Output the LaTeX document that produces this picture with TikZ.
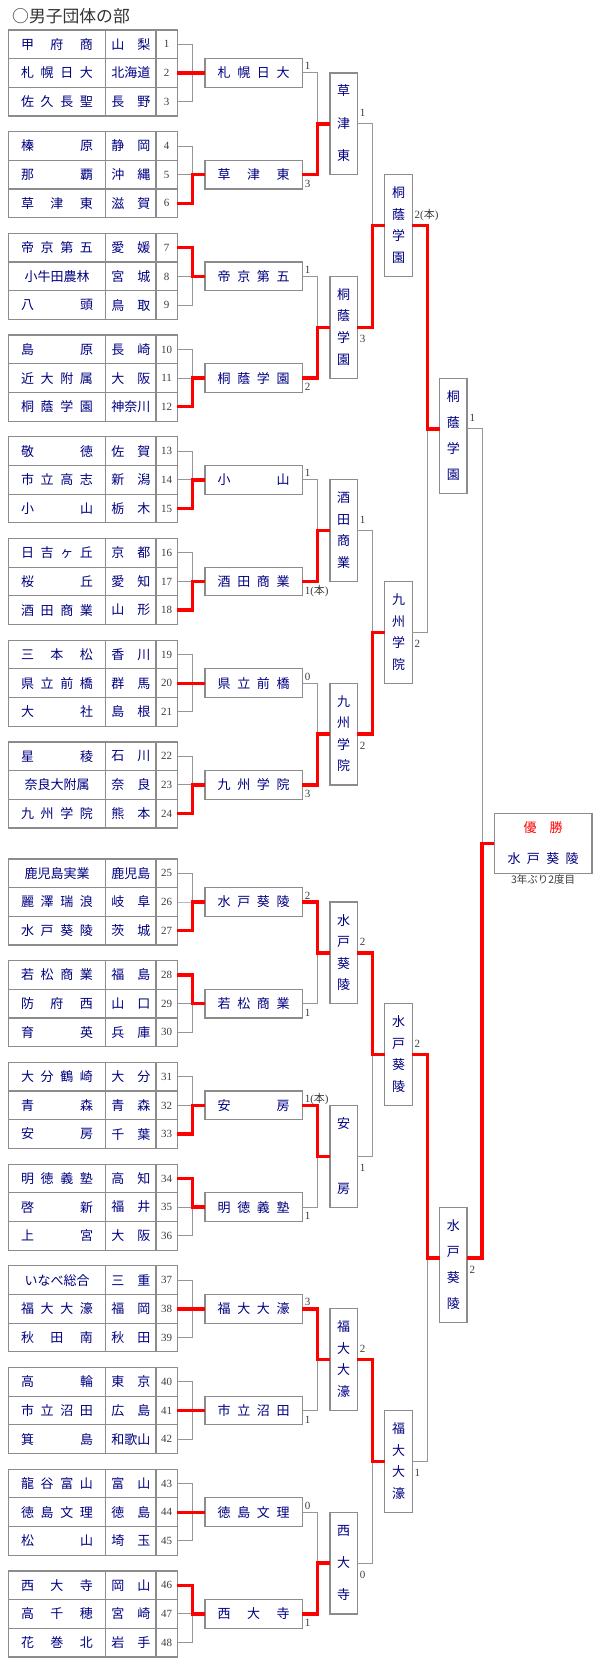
\documentclass[tikz,border=0pt]{standalone}
\usepackage{fontspec}
\setmainfont{Liberation Serif}
\newfontfamily\jfont{Noto Sans CJK JP}
\usetikzlibrary{calc}

\definecolor{teamblue}{RGB}{0,0,128}
\definecolor{cellgray}{RGB}{140,140,140}
\definecolor{linegray}{RGB}{150,150,150}
\definecolor{numgray}{RGB}{60,60,60}
\definecolor{titlegray}{RGB}{51,51,51}

% characters spread over a fixed width or height
\newcommand\hspread[2]{\edef\spreadlist{#2}\leavevmode
  \hbox to #1{\hfil\foreach[count=\idx]\zi in \spreadlist{\ifnum\idx>1 \hfill\fi\zi}\hfil}}
\newcommand\vspread[2]{\edef\spreadlist{#2}%
  \vbox to #1{\offinterlineskip
    \foreach[count=\idx]\zi in \spreadlist{\ifnum\idx>1 \vfill\fi
      \hbox to 13pt{\hss\zi\hss\vrule height 11pt depth 2pt width 0pt}}}}
\newcommand\hon{({\jfont 本})}

\begin{document}
\begin{tikzpicture}[x=1pt, y=-1pt,
  cell/.style={draw=cellgray, line width=1.2pt, inner sep=0pt, outer sep=0pt},
  team/.style={cell, minimum height=28.67pt, text=teamblue, font=\jfont\fontsize{13}{15}\selectfont},
  num/.style={cell, minimum width=21.3pt, minimum height=28.67pt, text=numgray, font=\fontsize{11}{13}\selectfont},
  flatbox/.style={team, minimum width=97.3pt},
  tallbox/.style={cell, minimum width=27.4pt, minimum height=#1, text=teamblue, font=\jfont\fontsize{13}{15}\selectfont},
  link/.style={draw=linegray, line width=1pt},
  win/.style={draw=red, line width=3.4pt},
  score/.style={inner xsep=2.5pt, inner ysep=0pt, outer sep=0pt, text=numgray, font=\fontsize{11}{13}\selectfont, text height=7.5pt, text depth=0pt},
  score up/.style={score, anchor=south west, yshift=#1},
  score down/.style={score, anchor=north west, yshift=-#1}]
\useasboundingbox (0,0) rectangle (600,1680);

% --- Title ---
\node[anchor=west, inner sep=0pt, text=titlegray, font=\jfont\fontsize{16.8}{18}\selectfont] (title) at (12,16) {○男子団体の部};

% --- Teams ---
\foreach \n/\nm/\pf in {
  1/{甲,府,商}/{山,梨}, 2/{札,幌,日,大}/北海道, 3/{佐,久,長,聖}/{長,野},
  4/{榛,原}/{静,岡}, 5/{那,覇}/{沖,縄}, 6/{草,津,東}/{滋,賀},
  7/{帝,京,第,五}/{愛,媛}, 8/小牛田農林/{宮,城}, 9/{八,頭}/{鳥,取},
  10/{島,原}/{長,崎}, 11/{近,大,附,属}/{大,阪}, 12/{桐,蔭,学,園}/神奈川,
  13/{敬,徳}/{佐,賀}, 14/{市,立,高,志}/{新,潟}, 15/{小,山}/{栃,木},
  16/{日,吉,ヶ,丘}/{京,都}, 17/{桜,丘}/{愛,知}, 18/{酒,田,商,業}/{山,形},
  19/{三,本,松}/{香,川}, 20/{県,立,前,橋}/{群,馬}, 21/{大,社}/{島,根},
  22/{星,稜}/{石,川}, 23/奈良大附属/{奈,良}, 24/{九,州,学,院}/{熊,本},
  25/鹿児島実業/鹿児島, 26/{麗,澤,瑞,浪}/{岐,阜}, 27/{水,戸,葵,陵}/{茨,城},
  28/{若,松,商,業}/{福,島}, 29/{防,府,西}/{山,口}, 30/{育,英}/{兵,庫},
  31/{大,分,鶴,崎}/{大,分}, 32/{青,森}/{青,森}, 33/{安,房}/{千,葉},
  34/{明,徳,義,塾}/{高,知}, 35/{啓,新}/{福,井}, 36/{上,宮}/{大,阪},
  37/いなべ総合/{三,重}, 38/{福,大,大,濠}/{福,岡}, 39/{秋,田,南}/{秋,田},
  40/{高,輪}/{東,京}, 41/{市,立,沼,田}/{広,島}, 42/{箕,島}/和歌山,
  43/{龍,谷,富,山}/{富,山}, 44/{徳,島,文,理}/{徳,島}, 45/{松,山}/{埼,玉},
  46/{西,大,寺}/{岡,山}, 47/{高,千,穂}/{宮,崎}, 48/{花,巻,北}/{岩,手}}{
  \pgfmathtruncatemacro\g{(\n+2)/3}
  \pgfmathsetmacro\y{44.33+101.7*(\g-1)+15.4*(\g>8)+28.67*(\n-3*\g+2)}
  \node[team, minimum width=97.4pt] (t\n) at (57,\y) {\hspread{72pt}{\nm}};
  \node[team, minimum width=50.3pt] (p\n) at (130.85,\y) {\hspread{39pt}{\pf}};
  \node[num] (c\n) at (166.65,\y) {\n};
}

% --- Round 1 ---
\foreach \g/\w/\nm/\scr in {1/2/{札,幌,日,大}/1, 2/3/{草,津,東}/3, 3/1/{帝,京,第,五}/1, 4/3/{桐,蔭,学,園}/2,
  5/3/{小,山}/1, 6/3/{酒,田,商,業}/1\hon, 7/2/{県,立,前,橋}/0, 8/3/{九,州,学,院}/3,
  9/3/{水,戸,葵,陵}/2, 10/1/{若,松,商,業}/1, 11/3/{安,房}/1\hon, 12/1/{明,徳,義,塾}/1,
  13/2/{福,大,大,濠}/3, 14/2/{市,立,沼,田}/1, 15/2/{徳,島,文,理}/0, 16/1/{西,大,寺}/1}{
  \pgfmathsetmacro\y{73+101.7*(\g-1)+15.4*(\g>8)}
  \node[flatbox] (r1-\g) at (253.65,\y) {\hspread{72pt}{\nm}};
  \foreach \row in {1,2,3}{
    \pgfmathtruncatemacro\tn{3*\g-3+\row}
    \draw[link] (c\tn.east) -| ($(r1-\g.west)+(-12.3,0)$) -- (r1-\g.west);
  }
  \pgfmathtruncatemacro\tn{3*\g-3+\w}
  \draw[win] (c\tn.east) -| ($(r1-\g.west)+(-12.3,0)$) -- (r1-\g.west);
  \ifodd\g\relax \node[score up=3pt] (s1-\g) at (r1-\g.east) {\scr};
  \else \node[score down=5.3pt] (s1-\g) at (r1-\g.east) {\scr}; \fi
}

% --- Round 2 ---
\foreach \jj/\wr/\nm/\scr in {1/2/{草,津,東}/1, 2/4/{桐,蔭,学,園}/3, 3/6/{酒,田,商,業}/1, 4/8/{九,州,学,院}/2,
  5/9/{水,戸,葵,陵}/2, 6/11/{安,房}/1, 7/13/{福,大,大,濠}/2, 8/16/{西,大,寺}/0}{
  \pgfmathsetmacro\y{123.85+203.4*(\jj-1)+15.4*(\jj>4)}
  \node[tallbox=101.7pt] (r2-\jj) at (343.65,\y) {\vspread{75.7pt}{\nm}};
  \pgfmathtruncatemacro\lo{2*\jj-1}
  \pgfmathtruncatemacro\hi{2*\jj}
  \foreach \g in {\lo,\hi}
    \draw[link] (r1-\g.east) -| ($(r2-\jj.west)+(-12.7,0)$) -- (r2-\jj.west);
  \draw[win] (r1-\wr.east) -| ($(r2-\jj.west)+(-12.7,0)$) -- (r2-\jj.west);
  \ifodd\jj\relax \node[score up=7.3pt] (s2-\jj) at (r2-\jj.east) {\scr};
  \else \node[score down=7.6pt] (s2-\jj) at (r2-\jj.east) {\scr}; \fi
}

% --- Round 3 ---
\foreach \ii/\wr/\nm/\scr in {1/2/{桐,蔭,学,園}/2\hon, 2/4/{九,州,学,院}/2, 3/5/{水,戸,葵,陵}/2, 4/7/{福,大,大,濠}/1}{
  \pgfmathsetmacro\y{225.55+406.8*(\ii-1)+15.4*(\ii>2)}
  \node[tallbox=101.7pt] (r3-\ii) at (398.5,\y) {\vspread{75.7pt}{\nm}};
  \pgfmathtruncatemacro\lo{2*\ii-1}
  \pgfmathtruncatemacro\hi{2*\ii}
  \foreach \jj in {\lo,\hi}
    \draw[link] (r2-\jj.east) -| ($(r3-\ii.west)+(-12.4,0)$) -- (r3-\ii.west);
  \draw[win] (r2-\wr.east) -| ($(r3-\ii.west)+(-12.4,0)$) -- (r3-\ii.west);
  \ifodd\ii\relax \node[score up=7.3pt] (s3-\ii) at (r3-\ii.east) {\scr};
  \else \node[score down=7.6pt] (s3-\ii) at (r3-\ii.east) {\scr}; \fi
}

% --- Semi-finals ---
\foreach \hh/\wr/\nm/\scr in {1/1/{桐,蔭,学,園}/1, 2/3/{水,戸,葵,陵}/2}{
  \pgfmathsetmacro\y{428.95+813.6*(\hh-1)+15.4*(\hh>1)}
  \node[tallbox=115.6pt] (r4-\hh) at (453.35,{\y+7}) {\vspread{89.6pt}{\nm}};
  \coordinate (in4-\hh) at ($(r4-\hh.west)+(0,-7)$);
  \coordinate (out4-\hh) at ($(r4-\hh.east)+(0,-7)$);
  \pgfmathtruncatemacro\lo{2*\hh-1}
  \pgfmathtruncatemacro\hi{2*\hh}
  \foreach \ii in {\lo,\hi}
    \draw[link] (r3-\ii.east) -| ($(in4-\hh)+(-12,0)$) -- (in4-\hh);
  \draw[win] (r3-\wr.east) -| ($(in4-\hh)+(-12,0)$) -- (in4-\hh);
  \ifodd\hh\relax \node[score up=7.6pt] (s4-\hh) at (out4-\hh) {\scr};
  \else \node[score down=7.6pt] (s4-\hh) at (out4-\hh) {\scr}; \fi
}

% --- Final ---
\node[cell, minimum width=97.7pt, minimum height=60.6pt, align=center, text=teamblue,
  font=\jfont\fontsize{13}{31}\selectfont] (fin) at (543.15,843.45)
  {\textcolor{red}{\hspread{39pt}{優,勝}}\\\hspread{71pt}{水,戸,葵,陵}};
\foreach \hh in {1,2}
  \draw[link] (out4-\hh) -| ($(fin.west)+(-12.3,0)$) -- (fin.west);
\draw[win] (out4-2) -| ($(fin.west)+(-12.3,0)$) -- (fin.west);
\node[anchor=north, inner sep=1pt, text=numgray, font=\jfont\fontsize{10.5}{12}\selectfont] (note) at (fin.south) {3年ぶり2度目};
\end{tikzpicture}
\end{document}
